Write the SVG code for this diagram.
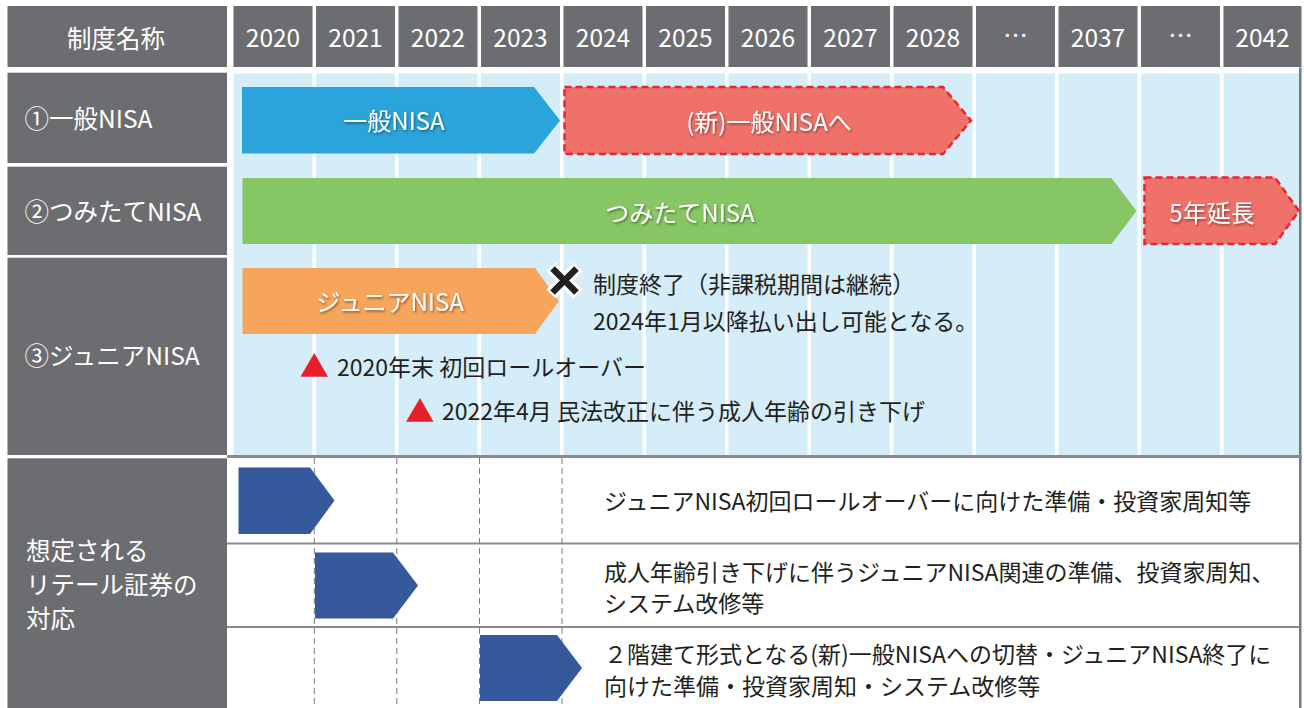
<svg xmlns="http://www.w3.org/2000/svg" width="1304" height="708" viewBox="0 0 1304 708">
<defs>
<style>
text{font-family:"Noto Sans CJK JP","Noto Sans",sans-serif;}
.hd{fill:#6c6d70;}
.col{fill:#d5ecf9;}
.yr{fill:#fff;font-size:24.5px;text-anchor:middle;dominant-baseline:central;}
.lb{fill:#fff;font-size:24.5px;dominant-baseline:central;}
.ar{fill:#fff;font-size:24px;text-anchor:middle;dominant-baseline:central;filter:url(#sh);}
.dk{fill:#231f20;font-size:23px;dominant-baseline:central;}
.dash{fill:#f07169;stroke:#e8262e;stroke-width:2.5;stroke-dasharray:7 4;}
.navy{fill:#35599a;}
.vd{stroke:#7a7a7a;stroke-width:1;stroke-dasharray:6 4;}
.sep{stroke:#8a8b8d;stroke-width:2;}
.tri{fill:#e5202a;}
</style>
<filter id="sh" x="-20%" y="-40%" width="140%" height="180%">
<feDropShadow dx="1" dy="1.5" stdDeviation="1" flood-color="#000" flood-opacity="0.45"/>
</filter>
</defs>
<rect width="1304" height="708" fill="#fff"/>

<g id="header">
<rect class="hd" x="7.5" y="6" width="219.5" height="61"/>
<text class="yr" x="116" y="37">制度名称</text>
<rect class="hd" x="233.5" y="6" width="79" height="61"/>
<rect class="hd" x="316" y="6" width="79" height="61"/>
<rect class="hd" x="398.5" y="6" width="79" height="61"/>
<rect class="hd" x="481" y="6" width="79" height="61"/>
<rect class="hd" x="563.5" y="6" width="79" height="61"/>
<rect class="hd" x="646" y="6" width="79" height="61"/>
<rect class="hd" x="728.5" y="6" width="79" height="61"/>
<rect class="hd" x="811" y="6" width="79" height="61"/>
<rect class="hd" x="893.5" y="6" width="79" height="61"/>
<rect class="hd" x="976" y="6" width="79" height="61"/>
<rect class="hd" x="1058.5" y="6" width="79" height="61"/>
<rect class="hd" x="1141" y="6" width="79" height="61"/>
<rect class="hd" x="1223.5" y="6" width="78" height="61"/>
<text class="yr" x="273" y="36">2020</text>
<text class="yr" x="355.5" y="36">2021</text>
<text class="yr" x="438" y="36">2022</text>
<text class="yr" x="520.5" y="36">2023</text>
<text class="yr" x="603" y="36">2024</text>
<text class="yr" x="685.5" y="36">2025</text>
<text class="yr" x="768" y="36">2026</text>
<text class="yr" x="850.5" y="36">2027</text>
<text class="yr" x="933" y="36">2028</text>
<text class="yr" x="1015.5" y="34">…</text>
<text class="yr" x="1098" y="36">2037</text>
<text class="yr" x="1180.5" y="34">…</text>
<text class="yr" x="1262.5" y="36">2042</text>
</g>

<g id="grid">
<rect class="col" x="233.5" y="73.5" width="79" height="381.5"/>
<rect class="col" x="316" y="73.5" width="79" height="381.5"/>
<rect class="col" x="398.5" y="73.5" width="79" height="381.5"/>
<rect class="col" x="481" y="73.5" width="79" height="381.5"/>
<rect class="col" x="563.5" y="73.5" width="79" height="381.5"/>
<rect class="col" x="646" y="73.5" width="79" height="381.5"/>
<rect class="col" x="728.5" y="73.5" width="79" height="381.5"/>
<rect class="col" x="811" y="73.5" width="79" height="381.5"/>
<rect class="col" x="893.5" y="73.5" width="79" height="381.5"/>
<rect class="col" x="976" y="73.5" width="79" height="381.5"/>
<rect class="col" x="1058.5" y="73.5" width="79" height="381.5"/>
<rect class="col" x="1141" y="73.5" width="79" height="381.5"/>
<rect class="col" x="1223.5" y="73.5" width="75.5" height="381.5"/>
<rect x="1299" y="67.5" width="2.5" height="640.5" fill="#77787b"/>
<rect x="227" y="455" width="1074.5" height="3" fill="#8a8b8d"/>
<line class="sep" x1="227" y1="543.5" x2="1300" y2="543.5"/>
<line class="sep" x1="227" y1="627" x2="1300" y2="627"/>
<line class="vd" x1="314.3" y1="458" x2="314.3" y2="708"/>
<line class="vd" x1="396.8" y1="458" x2="396.8" y2="708"/>
<line class="vd" x1="479.5" y1="458" x2="479.5" y2="708"/>
<line class="vd" x1="562" y1="458" x2="562" y2="708"/>
</g>

<g id="row-labels">
<rect class="hd" x="7.5" y="72.7" width="219.5" height="90.3"/>
<text class="lb" x="24.5" y="117">①一般NISA</text>
<rect class="hd" x="7.5" y="166.7" width="219.5" height="88.3"/>
<text class="lb" x="24.5" y="210">②つみたてNISA</text>
<rect class="hd" x="7.5" y="257.7" width="219.5" height="197.3"/>
<text class="lb" x="24.5" y="354">③ジュニアNISA</text>
<rect class="hd" x="7.5" y="458.3" width="219.5" height="249.7"/>
<text class="lb" x="26" y="549">想定される</text>
<text class="lb" x="26" y="583">リテール証券の</text>
<text class="lb" x="26" y="617">対応</text>
</g>

<g id="ippan-nisa">
<polygon points="242,87 534,87 560,120.5 534,153.5 242,153.5" fill="#2ba3db"/>
<text class="ar" x="394" y="119">一般NISA</text>
</g>
<g id="new-ippan-nisa">
<polygon class="dash" points="564.5,87 943,87 971,120.5 943,154 564.5,154"/>
<text class="ar" x="769" y="120">(新)一般NISAへ</text>
</g>
<g id="tsumitate-nisa">
<polygon points="242.5,178 1111.5,178 1136.5,211 1111.5,244 242.5,244" fill="#87c664"/>
<text class="ar" x="680" y="211">つみたてNISA</text>
</g>
<g id="extension">
<polygon class="dash" points="1144.5,177.5 1275,177.5 1299,211 1275,244 1144.5,244"/>
<text class="ar" x="1212" y="211">5年延長</text>
</g>
<g id="junior-nisa">
<polygon points="242.5,268 535,268 559,301 535,334 242.5,334" fill="#f6a55b"/>
<text class="ar" x="390" y="300">ジュニアNISA</text>
</g>
<g id="end-mark">
<path d="M551,267 L578,294 M578,267 L551,294" stroke="#fff" stroke-width="13"/>
<path d="M552.5,268.5 L576.5,292.5 M576.5,268.5 L552.5,292.5" stroke="#231f20" stroke-width="6.5"/>
<text class="dk" x="593" y="283">制度終了（非課税期間は継続）</text>
<text class="dk" x="593" y="320">2024年1月以降払い出し可能となる。</text>
</g>
<g id="rollover">
<polygon class="tri" points="300.5,376.7 314.3,353 328,376.7"/>
<text class="dk" x="337" y="366">2020年末 初回ロールオーバー</text>
</g>
<g id="age-change">
<polygon class="tri" points="406,421.7 420,398 433.5,421.7"/>
<text class="dk" x="442" y="410">2022年4月 民法改正に伴う成人年齢の引き下げ</text>
</g>

<g id="task-1">
<polygon class="navy" points="238.5,467.5 310,467.5 334.5,500.5 310,534 238.5,534"/>
<text class="dk" x="604" y="500">ジュニアNISA初回ロールオーバーに向けた準備・投資家周知等</text>
</g>
<g id="task-2">
<polygon class="navy" points="315,552.5 393,552.5 418,585.5 393,618.5 315,618.5"/>
<text class="dk" x="604" y="570.5">成人年齢引き下げに伴うジュニアNISA関連の準備、投資家周知、</text>
<text class="dk" x="604" y="602">システム改修等</text>
</g>
<g id="task-3">
<polygon class="navy" points="480,635 557,635 582,668 557,701 480,701"/>
<text class="dk" x="604" y="653">２階建て形式となる(新)一般NISAへの切替・ジュニアNISA終了に</text>
<text class="dk" x="604" y="685">向けた準備・投資家周知・システム改修等</text>
</g>
</svg>
